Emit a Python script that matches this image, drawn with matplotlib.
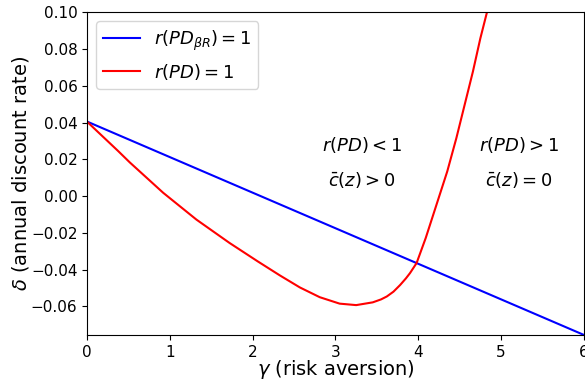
import matplotlib
matplotlib.use("Agg")
import matplotlib.pyplot as plt

# Data
gamma_blue = [0.0, 6.0]
delta_blue = [0.0405, -0.0755]

gamma_red = [0.00, 0.374, 0.515, 0.918, 1.32, 1.72, 2.06, 2.33, 2.57, 2.81,
             3.05, 3.25, 3.45, 3.55, 3.62, 3.70, 3.78, 3.85, 3.90, 3.98,
             4.09, 4.22, 4.35, 4.46, 4.56, 4.66, 4.75, 4.83, 4.90]
delta_red = [0.0404, 0.0245, 0.0183, 0.0018, -0.0128, -0.0255, -0.0355,
             -0.0432, -0.0497, -0.0550, -0.0585, -0.0593, -0.0578, -0.0562,
             -0.0546, -0.0520, -0.0484, -0.0448, -0.0419, -0.0364, -0.0228,
             -0.0047, 0.0134, 0.0315, 0.0496, 0.0677, 0.0858, 0.1000, 0.1130]

xticks = [0, 1, 2, 3, 4, 5, 6]
yticks = [-0.06, -0.04, -0.02, 0.00, 0.02, 0.04, 0.06, 0.08, 0.10]

fig = plt.figure(figsize=(5.85, 3.81), dpi=100)
ax = fig.add_axes([0.149, 0.121, 0.849, 0.847])

ax.plot(gamma_blue, delta_blue, color="blue", lw=1.5, label=r"$r(PD_{\beta R}) = 1$")
ax.plot(gamma_red, delta_red, color="red", lw=1.5, label=r"$r(PD) = 1$")

ax.set_xlim(0, 6)
ax.set_ylim(-0.0755, 0.10)
ax.set_xticks(xticks)
ax.set_yticks(yticks)
ax.set_yticklabels([f"{v:.2f}".replace("-", "\u2212") for v in yticks])
ax.tick_params(labelsize=11)

ax.set_xlabel(r"$\gamma$ (risk aversion)", fontsize=14, labelpad=-1)
ax.set_ylabel(r"$\delta$ (annual discount rate)", fontsize=14, labelpad=0)

ax.text(3.32, 0.028, r"$r(PD) < 1$", fontsize=13, ha="center", va="center")
ax.text(3.32, 0.009, r"$\bar{c}(z) > 0$", fontsize=13, ha="center", va="center")
ax.text(5.22, 0.028, r"$r(PD) > 1$", fontsize=13, ha="center", va="center")
ax.text(5.22, 0.009, r"$\bar{c}(z) = 0$", fontsize=13, ha="center", va="center")

ax.legend(loc="upper left", fontsize=13)

fig.savefig("out.png", dpi=100)
